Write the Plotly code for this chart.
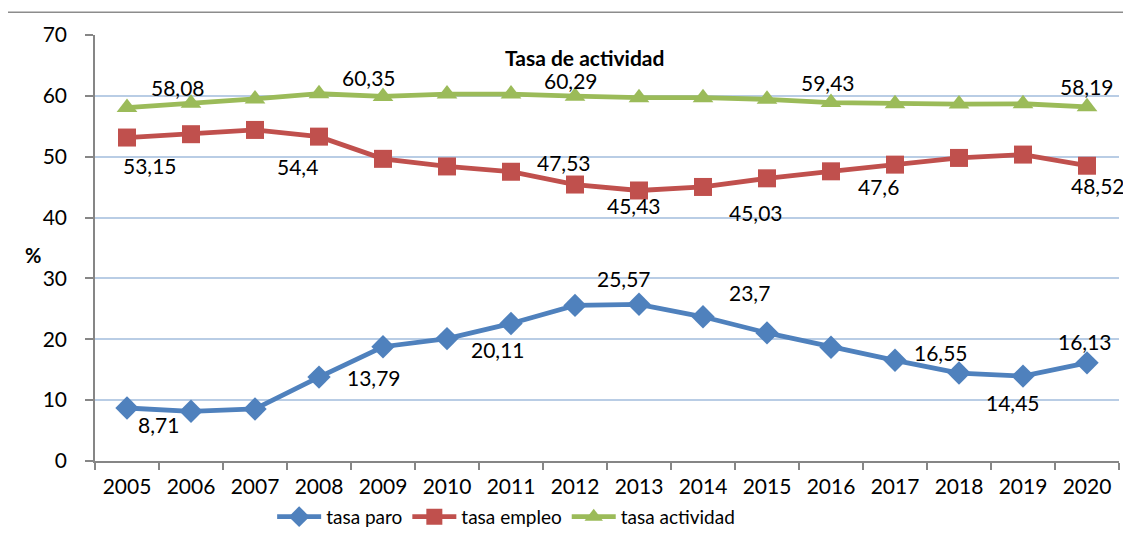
import plotly.graph_objects as go

years = [str(y) for y in range(2005, 2021)]
paro = [8.71, 8.17, 8.55, 13.79, 18.78, 20.11, 22.60, 25.57, 25.75, 23.70, 21.05, 18.70, 16.55, 14.45, 13.95, 16.13]
empleo = [53.15, 53.70, 54.40, 53.30, 49.65, 48.40, 47.53, 45.43, 44.45, 45.03, 46.45, 47.60, 48.70, 49.80, 50.35, 48.52]
actividad = [58.08, 58.77, 59.50, 60.35, 59.90, 60.30, 60.29, 59.95, 59.70, 59.70, 59.43, 58.90, 58.70, 58.65, 58.70, 58.19]

# which points carry a data label, and the label's pixel offset (dx, dy-down)
paro_labels = [(0, 31, 17), (3, 55, 0), (5, 51, 11), (7, 49, -27), (9, 46, -24), (12, 46, -8), (13, 54, 29), (15, -2, -21)]
empleo_labels = [(0, 23, 28), (2, 42, 37), (6, 53, -9), (7, 59, 21), (9, 53, 26), (11, 47, 15), (15, 11, 20)]
actividad_labels = [(0, 51, -20), (3, 50, -16), (6, 60, -14), (10, 61, -17), (15, 0, -20)]

FONT = "Lato"
BLUE, RED, GREEN = "#4f81bd", "#c0504d", "#9bbb59"

fig = go.Figure()
series = [
    ("tasa paro", paro, BLUE, "diamond", 18, paro_labels),
    ("tasa empleo", empleo, RED, "square", 18, empleo_labels),
    ("tasa actividad", actividad, GREEN, "triangle-up", 18, actividad_labels),
]
annotations = []
for name, vals, col, sym, msize, labs in series:
    fig.add_trace(go.Scatter(
        x=years, y=vals, name=name, mode="lines+markers",
        line=dict(color=col, width=4.8),
        marker=dict(symbol=sym, size=msize, color=col),
    ))
    for idx, dx, dy in labs:
        annotations.append(dict(
            x=idx, y=vals[idx], xref="x", yref="y",
            text=str(vals[idx]).replace(".", ","), showarrow=False,
            xanchor="center", yanchor="middle",
            xshift=dx, yshift=-dy, font=dict(family=FONT, size=21, color="#000000"),
        ))

annotations.append(dict(
    x=0.4785, y=0.948, xref="paper", yref="paper", text="<b>Tasa de actividad</b>",
    showarrow=False, font=dict(family=FONT, size=21, color="#000000"),
    xanchor="center", yanchor="middle",
))
annotations.append(dict(
    x=-0.0605, y=0.4836, xref="paper", yref="paper", text="<b>%</b>",
    showarrow=False, font=dict(family=FONT, size=20, color="#000000"),
    xanchor="center", yanchor="middle",
))

fig.update_layout(
    width=1123, height=540,
    margin=dict(l=87, r=12, t=27, b=87),
    paper_bgcolor="white", plot_bgcolor="white",
    font=dict(family=FONT, size=21, color="#000000"),
    showlegend=True,
    legend=dict(orientation="h", x=0.173, y=-0.131, xanchor="left", yanchor="middle",
                font=dict(family=FONT, size=19), itemwidth=44,
                bgcolor="rgba(0,0,0,0)"),
    annotations=annotations,
    shapes=[dict(type="rect", xref="paper", yref="paper",
                 x0=-0.0859, x1=1.2, y0=-0.4, y1=1.0533,
                 line=dict(color="#8c8c8c", width=1.5), fillcolor="rgba(0,0,0,0)", layer="below")],
)
fig.update_xaxes(
    type="category", range=[-0.5, 15.5], tickson="boundaries",
    ticks="outside", ticklen=7, tickcolor="#868686", tickwidth=1.5,
    showline=True, linecolor="#868686", linewidth=1.5, showgrid=False,
    ticklabelstandoff=6,
)
fig.update_yaxes(
    range=[0, 70], dtick=10, ticks="outside", ticklen=8, tickcolor="#868686", tickwidth=1.5,
    showline=True, linecolor="#868686", linewidth=1.5,
    showgrid=True, gridcolor="#b9cde5", gridwidth=1.5, zeroline=False,
    ticklabelstandoff=14,
)
fig.write_html("out.html")
